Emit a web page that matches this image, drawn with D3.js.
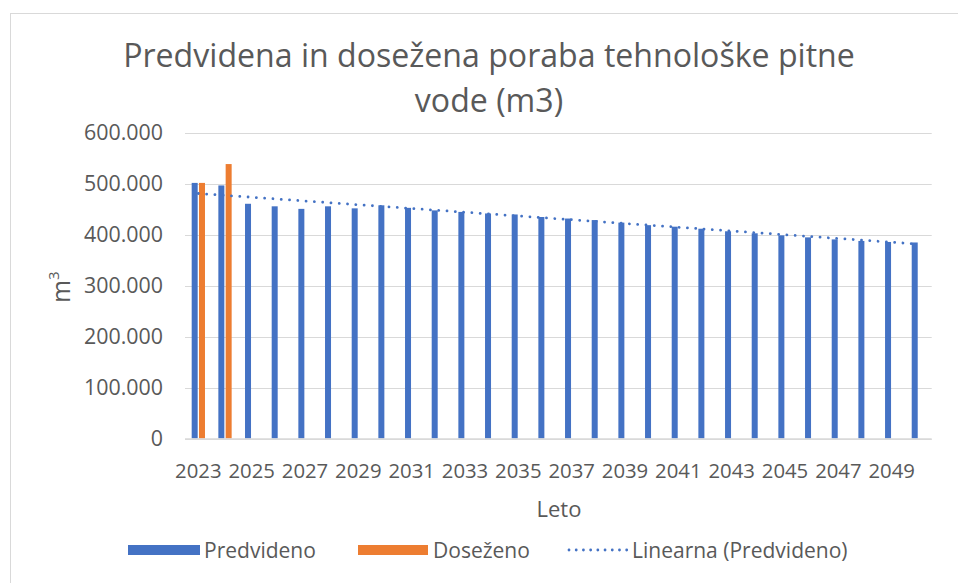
<!DOCTYPE html>
<html>
<head>
<meta charset="utf-8">
<script src="https://cdn.jsdelivr.net/npm/d3@7"></script>
<style>
  html, body { margin: 0; padding: 0; background: #fff; }
  svg { display: block; }
  text { font-family: "Open Sans", "Noto Sans", sans-serif; fill: #595959; }
</style>
</head>
<body>
<div id="chart"></div>
<script>
"use strict";

// data
const years = d3.range(2023, 2051).map(String);
const predvideno = [502000, 497000, 461000, 456000, 451000, 456000, 452000, 458000, 453000, 448000,
                    445000, 442000, 440000, 435000, 432000, 429000, 424000, 419000, 416000, 412000,
                    407000, 403000, 399000, 395000, 391000, 388000, 386000, 385000];
const dosezeno = [502000, 539000];
const yTicks = [0, 100000, 200000, 300000, 400000, 500000, 600000];
const series = ["Predvideno", "Doseženo"];
const colors = ["#4472C4", "#ED7D31"];

const W = 958, H = 583;
const svg = d3.select("#chart").append("svg").attr("width", W).attr("height", H);

// scale a group of labels so that one sample label gets the wanted width
function fitSize(sel, target) {
    const w = sel.node().getComputedTextLength();
    const fs = parseFloat(sel.style("font-size"));
    return fs * target / w;
}

// chart frame (only top/left edges are visible in the crop)
svg.append("rect")
    .attr("x", 10.5).attr("y", 13.5)
    .attr("width", 1000).attr("height", 1000)
    .attr("fill", "none").attr("stroke", "#d9d9d9");

const x = d3.scaleBand().domain(years).range([185, 931.7]);
const xs = d3.scaleBand().domain(series).range([-7.3, 7.3]);
const y = d3.scaleLinear().domain([0, 600000]).range([438.5, 133]);

const fmt = d3.formatLocale({ decimal: ",", thousands: ".", grouping: [3], currency: ["", "€"] }).format(",");

// gridlines
svg.append("g").selectAll("line")
    .data(yTicks)
    .enter().append("line")
    .attr("x1", 185).attr("x2", 931.7)
    .attr("y1", d => Math.round(y(d)) + 0.5).attr("y2", d => Math.round(y(d)) + 0.5)
    .attr("stroke", "#d9d9d9").attr("stroke-width", 1.2);

// y axis labels
const yAxis = svg.append("g")
    .attr("transform", "translate(175,0)")
    .call(d3.axisLeft(y).tickValues(yTicks).tickFormat(fmt).tickSize(0).tickPadding(12));
yAxis.select(".domain").remove();
yAxis.selectAll("text")
    .style("font-family", "'Open Sans', sans-serif")
    .style("font-size", "18px").attr("fill", "#595959");
const tickFs = fitSize(yAxis.selectAll("text").filter(d => d === 600000), 79);
yAxis.selectAll("text").style("font-size", tickFs + "px");

// bars
const groups = svg.append("g").selectAll("g")
    .data(years)
    .enter().append("g")
    .attr("transform", d => "translate(" + (x(d) + x.bandwidth() / 2) + ",0)");

groups.selectAll("rect")
    .data((d, i) => series.map((s, j) => ({ s: s, j: j, v: j === 0 ? predvideno[i] : dosezeno[i] })).filter(e => e.v != null))
    .enter().append("rect")
    .attr("x", d => xs(d.s) + (xs.bandwidth() - 6) / 2)
    .attr("width", 6)
    .attr("y", d => y(d.v))
    .attr("height", d => y(0) - y(d.v))
    .attr("fill", d => colors[d.j]);

// linear trendline of Predvideno (least squares)
const n = predvideno.length;
const xi = d3.range(1, n + 1);
const mx = d3.mean(xi), my = d3.mean(predvideno);
const slope = d3.sum(xi, (v, i) => (v - mx) * (predvideno[i] - my)) / d3.sum(xi, v => (v - mx) * (v - mx));
const icept = my - slope * mx;
const trend = years.map((yr, i) => [x(yr) + x.bandwidth() / 2, icept + slope * (i + 1)]);

svg.append("path")
    .datum(trend)
    .attr("fill", "none")
    .attr("stroke", "#4472C4")
    .attr("stroke-width", 2.8)
    .attr("stroke-linecap", "round")
    .attr("stroke-dasharray", "0.01 8.3")
    .attr("d", d3.line().x(d => d[0]).y(d => y(d[1])));

// x axis line
svg.append("line")
    .attr("x1", 185).attr("x2", 931.7)
    .attr("y1", 439).attr("y2", 439)
    .attr("stroke", "#d9d9d9").attr("stroke-width", 1.3);

// x labels, every second year
const xl = svg.append("g").selectAll("text")
    .data(years.filter((d, i) => i % 2 === 0))
    .enter().append("text")
    .attr("x", d => x(d) + x.bandwidth() / 2)
    .attr("y", 478)
    .attr("text-anchor", "middle")
    .style("font-size", "18px")
    .text(d => d);
xl.style("font-size", fitSize(xl.filter((d, i) => i === 0), 46.5) + "px");

// axis titles
const leto = svg.append("text")
    .attr("x", 559).attr("y", 517)
    .attr("text-anchor", "middle")
    .style("font-size", "19px")
    .text("Leto");
leto.style("font-size", fitSize(leto, 45) + "px");

const yt = svg.append("text")
    .attr("transform", "translate(70,287) rotate(-90)")
    .attr("text-anchor", "middle")
    .style("font-size", (tickFs * 1.15) + "px");
yt.append("tspan").text("m");
yt.append("tspan").attr("dy", -11).style("font-size", (tickFs * 0.7) + "px").text("3");

// title
const title = svg.append("text")
    .attr("text-anchor", "middle")
    .style("font-size", "29px");
const t1 = title.append("tspan").attr("x", 489).attr("y", 67).text("Predvidena in dosežena poraba tehnološke pitne");
title.append("tspan").attr("x", 489).attr("y", 112).text("vode (m3)");
title.style("font-size", fitSize(t1, 732) + "px");

// legend
const legend = svg.append("g").attr("transform", "translate(0,550)");
legend.append("rect").attr("x", 128).attr("y", -5).attr("width", 72).attr("height", 10).attr("fill", colors[0]);
const lg1 = legend.append("text").attr("x", 204).attr("y", 8).style("font-size", "18px").text("Predvideno");
legend.append("rect").attr("x", 358).attr("y", -5).attr("width", 70).attr("height", 10).attr("fill", colors[1]);
legend.append("text").attr("x", 433).attr("y", 8).style("font-size", "18px").text("Doseženo");
legend.append("line")
    .attr("x1", 569).attr("x2", 627).attr("y1", 0).attr("y2", 0)
    .attr("stroke", "#4472C4").attr("stroke-width", 2.8)
    .attr("stroke-linecap", "round").attr("stroke-dasharray", "0.01 7.2");
legend.append("text").attr("x", 632).attr("y", 8).style("font-size", "18px").text("Linearna (Predvideno)");
legend.selectAll("text").style("font-size", fitSize(lg1, 112) + "px");
</script>
</body>
</html>
